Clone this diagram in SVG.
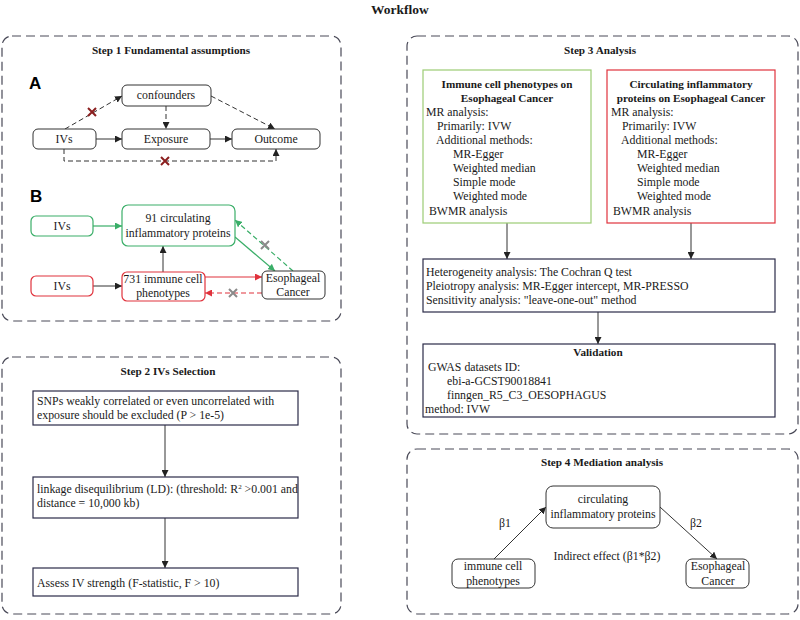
<svg xmlns="http://www.w3.org/2000/svg" width="800" height="620" viewBox="0 0 800 620">
<defs>
<style>
text{font-family:"Liberation Serif","Times New Roman",serif;font-size:11.8px;fill:#1a1a1a}
.b{font-weight:bold;font-size:11.2px}
.c{text-anchor:middle}
.lbl{font-family:"Liberation Sans",Arial,sans-serif;font-weight:bold;font-size:17px;fill:#000}
.panel{fill:none;stroke:#4a4a58;stroke-width:1.2;stroke-dasharray:9 5}
.rb{fill:#fff;stroke:#333;stroke-width:1}
.sb{fill:#fff;stroke:#2b2b48;stroke-width:1.2}
.gb{fill:#fff;stroke:#3aae68;stroke-width:1.2}
.rd{fill:#fff;stroke:#e0323c;stroke-width:1.2}
.ln{fill:none;stroke:#333;stroke-width:1}
.dl{fill:none;stroke:#333;stroke-width:1;stroke-dasharray:5 3}
.gl{fill:none;stroke:#3aae68;stroke-width:1.2}
.gdl{fill:none;stroke:#3aae68;stroke-width:1.2;stroke-dasharray:5 3}
.rl{fill:none;stroke:#e0323c;stroke-width:1.2}
.rdl{fill:none;stroke:#e0323c;stroke-width:1.2;stroke-dasharray:5 3}
.xr{stroke:#8b1f1f;stroke-width:2}
.xg{stroke:#8a8a8a;stroke-width:2}
</style>
<marker id="ak" viewBox="0 0 10 10" refX="10" refY="5" markerWidth="7" markerHeight="7" markerUnits="userSpaceOnUse" orient="auto"><path d="M0,0L10,5L0,10z" fill="#222"/></marker>
<marker id="ag" viewBox="0 0 10 10" refX="10" refY="5" markerWidth="7" markerHeight="7" markerUnits="userSpaceOnUse" orient="auto"><path d="M0,0L10,5L0,10z" fill="#3aae68"/></marker>
<marker id="ar" viewBox="0 0 10 10" refX="10" refY="5" markerWidth="7" markerHeight="7" markerUnits="userSpaceOnUse" orient="auto"><path d="M0,0L10,5L0,10z" fill="#e0323c"/></marker>
</defs>
<rect width="800" height="620" fill="#fff"/>
<text x="400" y="14" class="b c" style="font-size:13.5px">Workflow</text>

<g id="panels">
<rect class="panel" x="2" y="36" width="339" height="285" rx="10"/>
<rect class="panel" x="2" y="357" width="339" height="257" rx="10"/>
<rect class="panel" x="407" y="36" width="391" height="398" rx="10"/>
<rect class="panel" x="407" y="449" width="391" height="165" rx="10"/>
<text x="171" y="54" class="b c">Step 1 Fundamental assumptions</text>
<text x="168" y="375" class="b c">Step 2 IVs Selection</text>
<text x="600" y="54" class="b c">Step 3  Analysis</text>
<text x="602" y="466" class="b c">Step 4 Mediation analysis</text>
<text x="29" y="89" class="lbl">A</text>
<text x="30" y="202" class="lbl">B</text>
</g>

<g id="connectors">
<line class="ln" x1="96" y1="139" x2="122" y2="139" marker-end="url(#ak)"/>
<line class="ln" x1="210" y1="139" x2="232" y2="139" marker-end="url(#ak)"/>
<line class="dl" x1="166" y1="106" x2="166" y2="129" marker-end="url(#ak)"/>
<line class="dl" x1="65" y1="129" x2="122" y2="96" marker-end="url(#ak)"/>
<line class="dl" x1="211" y1="96" x2="275" y2="129" marker-end="url(#ak)"/>
<polyline class="dl" points="64,149 64,161 276,161 276,149" marker-end="url(#ak)"/>
<path class="xr" d="M88,108L96,116M96,108L88,116"/>
<path class="xr" d="M161,157L169,165M169,157L161,165"/>

<line class="gl" x1="93" y1="226" x2="122" y2="226" marker-end="url(#ag)"/>
<line class="ln" x1="93" y1="286" x2="122" y2="286" marker-end="url(#ak)"/>
<line class="ln" x1="163" y1="272" x2="163" y2="246" marker-end="url(#ak)"/>
<line class="rl" x1="205" y1="277" x2="262" y2="277" marker-end="url(#ar)"/>
<line class="rdl" x1="262" y1="293" x2="205" y2="293" marker-end="url(#ar)"/>
<line class="gl" x1="235" y1="237" x2="275" y2="271" marker-end="url(#ag)"/>
<line class="gdl" x1="293" y1="271" x2="235" y2="220" marker-end="url(#ag)"/>
<path class="xg" d="M229,289L237,297M237,289L229,297"/>
<path class="xg" d="M261,241L269,249M269,241L261,249"/>

<line class="ln" x1="165" y1="425" x2="165" y2="477" marker-end="url(#ak)"/>
<line class="ln" x1="165" y1="518" x2="165" y2="568" marker-end="url(#ak)"/>

<line class="ln" x1="507" y1="223" x2="507" y2="259" marker-end="url(#ak)"/>
<line class="ln" x1="691" y1="223" x2="691" y2="259" marker-end="url(#ak)"/>
<line class="ln" x1="598" y1="312" x2="598" y2="344" marker-end="url(#ak)"/>

<line class="ln" x1="494" y1="559" x2="546" y2="507" marker-end="url(#ak)"/>
<line class="ln" x1="660" y1="507" x2="717" y2="559" marker-end="url(#ak)"/>
</g>

<g id="confounders"><rect class="rb" x="122" y="85" width="89" height="21" rx="5"/><text x="166" y="99" class="c">confounders</text></g>
<g id="ivs-a"><rect class="rb" x="33" y="129" width="63" height="20" rx="5"/><text x="64" y="143" class="c">IVs</text></g>
<g id="exposure"><rect class="rb" x="122" y="129" width="88" height="20" rx="5"/><text x="166" y="143" class="c">Exposure</text></g>
<g id="outcome"><rect class="rb" x="232" y="129" width="88" height="20" rx="5"/><text x="276" y="143" class="c">Outcome</text></g>

<g id="ivs-green"><rect class="gb" x="31" y="216" width="62" height="20" rx="5"/><text x="62" y="230" class="c">IVs</text></g>
<g id="proteins-b"><rect class="gb" x="122" y="205" width="113" height="41" rx="6"/><text x="178" y="222" class="c">91 circulating</text><text x="178" y="237" class="c">inflammatory proteins</text></g>
<g id="ivs-red"><rect class="rd" x="31" y="276" width="62" height="20" rx="5"/><text x="62" y="290" class="c">IVs</text></g>
<g id="immune-b"><rect class="rd" x="122" y="272" width="83" height="29" rx="5"/><text x="163" y="283" class="c">731 immune cell</text><text x="163" y="297" class="c">phenotypes</text></g>
<g id="cancer-b"><rect class="rb" x="262" y="271" width="63" height="28" rx="5"/><text x="293" y="282" class="c">Esophageal</text><text x="293" y="296" class="c">Cancer</text></g>

<g id="snps"><rect class="sb" x="33" y="391" width="265" height="34"/><text x="37" y="405">SNPs weakly correlated or even uncorrelated with</text><text x="37" y="419">exposure should be excluded (P &gt; 1e-5)</text></g>
<g id="ld"><rect class="sb" x="33" y="477" width="265" height="41"/><text x="37" y="493">linkage disequilibrium (LD): (threshold: R<tspan dy="-4" style="font-size:7px">2</tspan><tspan dy="4"> &gt;0.001 and</tspan></text><text x="37" y="507">distance = 10,000 kb)</text></g>
<g id="fstat"><rect class="sb" x="33" y="568" width="265" height="28"/><text x="37" y="587">Assess IV strength (F-statistic, F &gt; 10)</text></g>

<g id="immune-ec"><rect x="423" y="70" width="168" height="153" fill="#fff" stroke="#9ccc74" stroke-width="1.2"/>
<text x="507" y="88" class="b c">Immune cell phenotypes on</text>
<text x="507" y="102" class="b c">Esophageal Cancer</text>
<text x="426" y="116">MR analysis:</text>
<text x="437" y="130">Primarily: IVW</text>
<text x="436" y="144">Additional methods:</text>
<text x="453" y="158">MR-Egger</text>
<text x="453" y="172">Weighted median</text>
<text x="453" y="186">Simple mode</text>
<text x="453" y="200">Weighted mode</text>
<text x="429" y="215">BWMR analysis</text></g>
<g id="proteins-ec"><rect class="rd" x="607" y="70" width="168" height="153"/>
<text x="691" y="88" class="b c">Circulating inflammatory</text>
<text x="691" y="102" class="b c">proteins on Esophageal Cancer</text>
<text x="611" y="116">MR analysis:</text>
<text x="622" y="130">Primarily: IVW</text>
<text x="621" y="144">Additional methods:</text>
<text x="637" y="158">MR-Egger</text>
<text x="637" y="172">Weighted median</text>
<text x="637" y="186">Simple mode</text>
<text x="637" y="200">Weighted mode</text>
<text x="613" y="215">BWMR analysis</text></g>
<g id="sensitivity"><rect class="sb" x="423" y="259" width="352" height="53"/>
<text x="426" y="276">Heterogeneity analysis: The Cochran Q test</text>
<text x="426" y="290">Pleiotropy analysis: MR-Egger intercept, MR-PRESSO</text>
<text x="426" y="304">Sensitivity analysis: "leave-one-out" method</text></g>
<g id="validation"><rect class="sb" x="423" y="344" width="352" height="73"/>
<text x="598" y="356" class="b c">Validation</text>
<text x="428" y="371">GWAS datasets ID:</text>
<text x="447" y="385">ebi-a-GCST90018841</text>
<text x="447" y="399">finngen_R5_C3_OESOPHAGUS</text>
<text x="425" y="413">method: IVW</text></g>

<g id="proteins-m"><rect class="rb" x="546" y="486" width="114" height="42" rx="7"/><text x="603" y="503" class="c">circulating</text><text x="603" y="518" class="c">inflammatory proteins</text></g>
<g id="immune-m"><rect class="rb" x="452" y="559" width="83" height="29" rx="6"/><text x="493" y="570" class="c">immune cell</text><text x="493" y="585" class="c">phenotypes</text></g>
<g id="cancer-m"><rect class="rb" x="686" y="559" width="63" height="29" rx="6"/><text x="718" y="570" class="c">Esophageal</text><text x="718" y="585" class="c">Cancer</text></g>
<g id="labels-m">
<text x="505" y="527" class="c">β1</text>
<text x="696" y="527" class="c">β2</text>
<text x="607" y="560" class="c">Indirect effect (β1*β2)</text>
</g>
</svg>
